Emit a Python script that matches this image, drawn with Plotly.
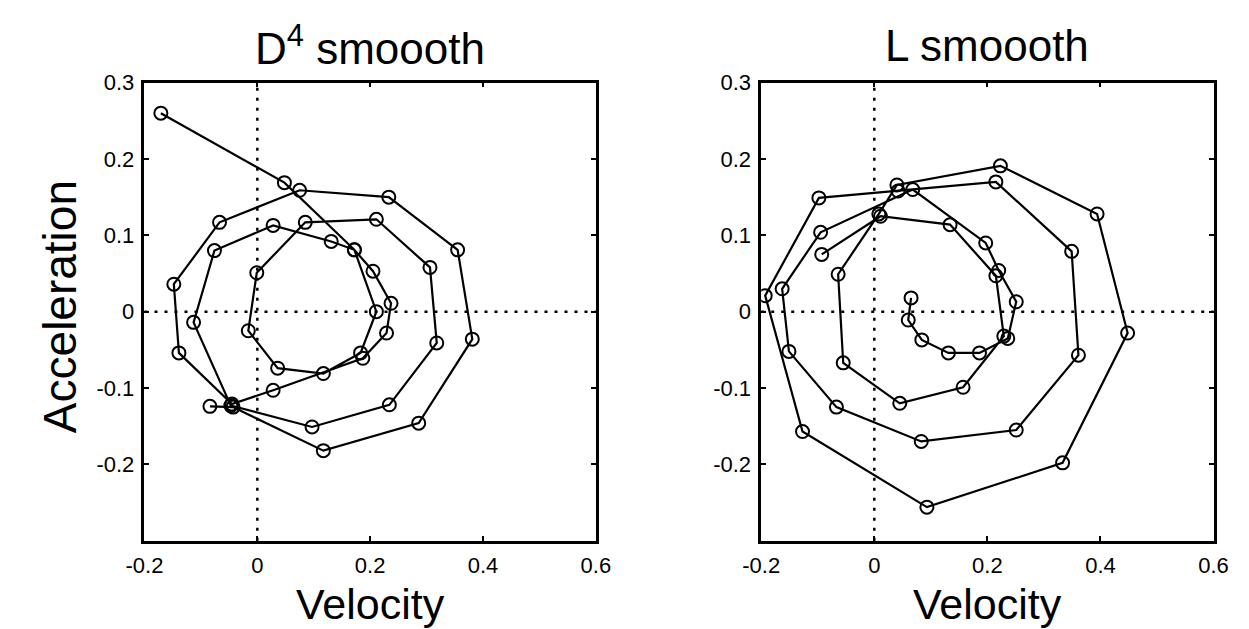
import plotly.graph_objects as go

# ---- data ----
d4_velocity = [-0.171, 0.048, 0.172, 0.211, 0.183, 0.117, 0.036, -0.016, -0.001, 0.085,
               0.211, 0.306, 0.318, 0.234, 0.097, -0.047, -0.113, -0.076, 0.028, 0.131,
               0.172, 0.205, 0.237, 0.229, 0.187, 0.028, -0.045, -0.139, -0.148, -0.067,
               0.075, 0.233, 0.355, 0.381, 0.286, 0.117, -0.043, -0.084]
d4_accel = [0.260, 0.169, 0.081, 0.000, -0.054, -0.081, -0.074, -0.025, 0.051, 0.117,
            0.121, 0.058, -0.041, -0.122, -0.151, -0.123, -0.014, 0.080, 0.113, 0.092,
            0.081, 0.053, 0.011, -0.028, -0.061, -0.103, -0.121, -0.054, 0.036, 0.117,
            0.159, 0.150, 0.081, -0.036, -0.146, -0.182, -0.125, -0.124]

l_velocity = [-0.093, 0.011, 0.134, 0.215, 0.229, 0.157, 0.045, -0.055, -0.064, 0.008,
              0.040, 0.223, 0.394, 0.448, 0.333, 0.093, -0.127, -0.193, -0.098, 0.042,
              0.215, 0.349, 0.361, 0.251, 0.083, -0.067, -0.151, -0.163, -0.095, 0.068,
              0.197, 0.220, 0.251, 0.236, 0.186, 0.131, 0.084, 0.060, 0.065]
l_accel = [0.075, 0.125, 0.114, 0.047, -0.032, -0.099, -0.120, -0.067, 0.049, 0.128,
           0.166, 0.191, 0.128, -0.028, -0.198, -0.256, -0.157, 0.021, 0.149, 0.158,
           0.170, 0.079, -0.057, -0.155, -0.170, -0.125, -0.052, 0.030, 0.104, 0.160,
           0.090, 0.054, 0.013, -0.035, -0.054, -0.054, -0.037, -0.011, 0.018]

x_tickvals = [-0.2, 0, 0.2, 0.4, 0.6]
x_ticktext = ["-0.2", "0", "0.2", "0.4", "0.6"]
y_tickvals = [-0.2, -0.1, 0, 0.1, 0.2, 0.3]
y_ticktext = ["-0.2", "-0.1", "0", "0.1", "0.2", "0.3"]

titles = ["D<sup>4</sup> smoooth", "L smoooth"]
x_label = "Velocity"
y_label = "Acceleration"

FONT = "Liberation Sans, Arial, sans-serif"
W, H = 1249, 629

fig = go.Figure()

line_style = dict(color="black", width=2.2)
marker_style = dict(symbol="circle-open", size=13, color="black", line=dict(width=2, color="black"))

fig.add_trace(go.Scatter(x=d4_velocity, y=d4_accel, mode="lines+markers",
                         line=line_style, marker=marker_style, xaxis="x", yaxis="y",
                         showlegend=False, hoverinfo="skip"))
fig.add_trace(go.Scatter(x=l_velocity, y=l_accel, mode="lines+markers",
                         line=line_style, marker=marker_style, xaxis="x2", yaxis="y2",
                         showlegend=False, hoverinfo="skip"))

xd1 = [129 / W, 593 / W]
xd2 = [763 / W, 1228 / W]
yd = [1 - 539 / H, 1 - 72 / H]

common_axis = dict(showgrid=False, zeroline=False, showline=True, linecolor="black",
                   linewidth=2.5, mirror="ticks", ticks="inside", ticklen=5, tickwidth=1.5,
                   tickcolor="black", ticklabelstandoff=3,
                   tickfont=dict(family=FONT, size=22, color="black"))

fig.update_layout(
    width=W, height=H, margin=dict(l=0, r=0, t=0, b=0),
    paper_bgcolor="white", plot_bgcolor="white",
    xaxis=dict(domain=xd1, range=[-0.2, 0.6], tickvals=x_tickvals, ticktext=x_ticktext,
               anchor="y", **common_axis),
    yaxis=dict(domain=yd, range=[-0.3, 0.3], tickvals=y_tickvals, ticktext=y_ticktext,
               anchor="x", **common_axis),
    xaxis2=dict(domain=xd2, range=[-0.2, 0.6], tickvals=x_tickvals, ticktext=x_ticktext,
                anchor="y2", **common_axis),
    yaxis2=dict(domain=yd, range=[-0.3, 0.3], tickvals=y_tickvals, ticktext=y_ticktext,
                anchor="x2", **common_axis),
)

# dotted zero reference lines
dot = dict(color="black", width=2.5, dash="3px,7px")
for xr, yr in [("x", "y"), ("x2", "y2")]:
    fig.add_shape(type="line", xref=xr, yref=yr + " domain", x0=0, x1=0, y0=0, y1=1, line=dot, layer="below")
    fig.add_shape(type="line", xref=xr + " domain", yref=yr, x0=0, x1=1, y0=0, y1=0, line=dot, layer="below")

# titles and axis labels
for i, (xd, t) in enumerate(zip([xd1, xd2], titles)):
    cx = (xd[0] + xd[1]) / 2
    fig.add_annotation(text=t, x=cx, y=1 - 34 / H, xref="paper", yref="paper",
                       showarrow=False, xanchor="center", yanchor="middle",
                       font=dict(family=FONT, size=44, color="black"))
    fig.add_annotation(text=x_label, x=cx, y=0, xref="paper", yref="paper",
                       showarrow=False, xanchor="center", yanchor="bottom",
                       borderpad=0,
                       font=dict(family=FONT, size=43, color="black"))

fig.add_annotation(text=y_label, x=42 / W, y=1 - 300 / H, xref="paper", yref="paper",
                   showarrow=False, xanchor="center", yanchor="middle", textangle=-90,
                   font=dict(family=FONT, size=46, color="black"))

fig.write_html("out.html")
